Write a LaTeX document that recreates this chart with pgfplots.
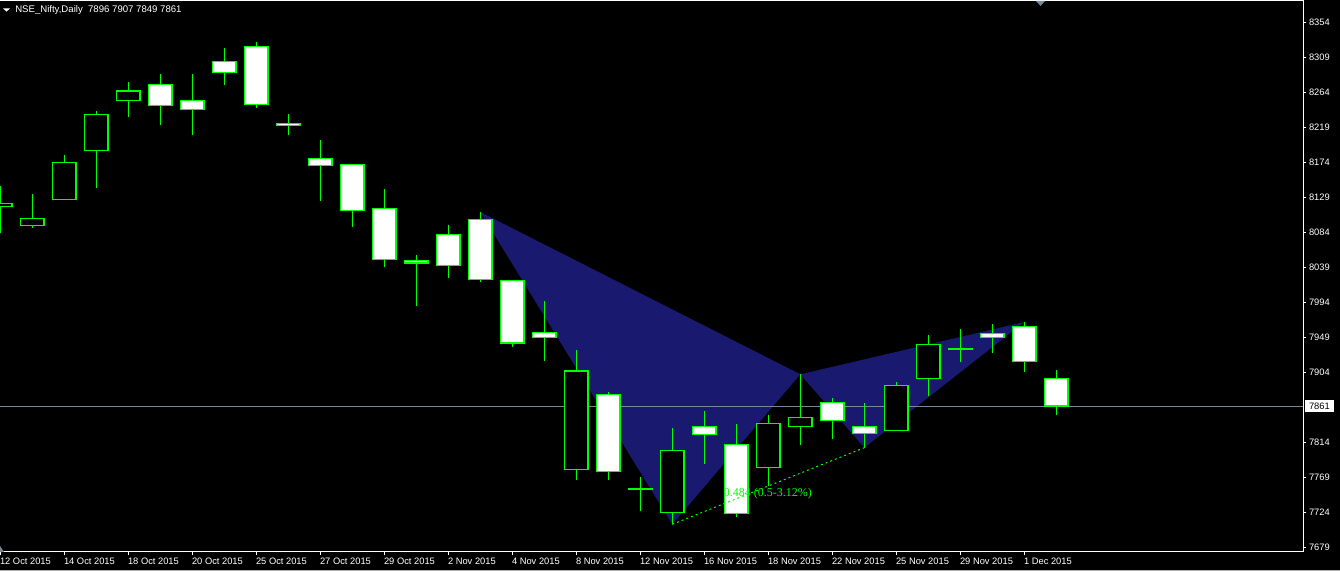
\documentclass[border=0pt]{standalone}
\usepackage{fontspec}
\setmainfont{Liberation Sans}
\newfontfamily\serifnum{Liberation Serif}
\usepackage{pgfplots}
\pgfplotsset{compat=1.18}
\usepackage{pgfplotstable}
\definecolor{mtgreen}{RGB}{0,255,0}
\definecolor{mtblue}{RGB}{25,25,112}
\definecolor{mtgray}{RGB}{119,136,153}

\pgfplotstableread{
i o h l c
0 8117.6 8143.7 8082.9 8121.5
1 8093.2 8133.4 8090.1 8102.2
2 8126.6 8183.5 8126.6 8174.1
3 8189.6 8240.0 8141.5 8235.8
4 8253.8 8277.3 8232.7 8265.7
5 8274.3 8287.6 8222.4 8247.4
6 8253.8 8287.6 8209.6 8242.2
7 8303.9 8321.0 8273.8 8289.8
8 8323.2 8328.7 8244.3 8248.7
9 8224.2 8236.2 8209.6 8221.7
10 8179.3 8202.8 8124.8 8170.3
11 8171.6 8171.6 8091.4 8112.5
12 8115.0 8139.8 8039.2 8049.5
13 8048.2 8054.7 7989.9 8044.8
14 8081.6 8093.2 8025.9 8041.8
15 8100.9 8110.3 8020.7 8023.8
16 8022.5 8022.5 7937.2 7942.0
17 7955.7 7996.0 7919.3 7949.3
18 7779.7 7933.0 7766.0 7906.0
19 7876.1 7879.0 7766.0 7777.2
20 7754.8 7769.5 7726.6 7754.8
21 7724.5 7832.8 7709.1 7804.1
22 7835.0 7854.6 7786.9 7824.7
23 7811.9 7838.0 7718.5 7723.2
24 7782.3 7849.5 7758.7 7838.8
25 7835.0 7901.8 7811.3 7846.5
26 7865.8 7871.7 7819.0 7842.7
27 7835.0 7864.5 7807.5 7826.0
28 7829.8 7891.9 7829.8 7887.7
29 7896.6 7952.3 7874.3 7940.3
30 7933.9 7960.0 7917.2 7933.9
31 7954.5 7966.4 7928.8 7949.3
32 7963.5 7969.0 7905.1 7918.5
33 7896.0 7907.0 7849.0 7861.0
}\candles

\pgfplotsset{
  mtaxis/.style={
    at={(0pt,14.25pt)}, anchor=south west,
    scale only axis, width=977.25pt, height=413.25pt,
    xmin=-0.0094, xmax=40.709, ymin=7673.5, ymax=8381.4,
  },
}

\begin{document}
\begin{tikzpicture}
\useasboundingbox (0,0) rectangle (1005pt,428.25pt);
\fill[black] (0,0) rectangle (1005pt,428.25pt);

% axis 1: pattern, price line, wicks, ticks
\begin{axis}[mtaxis,
  axis line style={draw=none},
  xtick={0,2,...,32},
  xticklabels={12 Oct 2015,14 Oct 2015,18 Oct 2015,20 Oct 2015,25 Oct 2015,27 Oct 2015,29 Oct 2015,2 Nov 2015,4 Nov 2015,8 Nov 2015,12 Nov 2015,16 Nov 2015,18 Nov 2015,22 Nov 2015,25 Nov 2015,29 Nov 2015,1 Dec 2015},
  ytick={7679,7724,7769,7814,7904,7949,7994,8039,8084,8129,8174,8219,8264,8309,8354},
  yticklabels={7679,7724,7769,7814,7904,7949,7994,8039,8084,8129,8174,8219,8264,8309,8354},
  xtick pos=left, ytick pos=right,
  xticklabel pos=left, yticklabel pos=right,
  tick align=outside, major tick length=2.6pt,
  every tick/.style={white, line width=0.75pt},
  ticklabel style={font=\fontsize{7}{8}\selectfont, text=white, inner sep=0pt},
  xticklabel style={anchor=north west, xshift=-0.4pt, yshift=-1.7pt},
  yticklabel style={anchor=west, xshift=1.7pt},
]
\addplot[fill=mtblue, draw=none] coordinates {(15,8110.3) (21,7709.1) (25,7901.8)} -- cycle;
\addplot[fill=mtblue, draw=none] coordinates {(25,7901.8) (27,7807.5) (32,7969.0)} -- cycle;
\addplot[mtgray, line width=0.75pt] coordinates {(-1,7861) (42,7861)};
\addplot[draw=none, mark=none,
  error bars/.cd, y dir=plus, y explicit, error mark=none,
  error bar style={draw=mtgreen, line width=0.75pt, solid}]
  table[x=i, y=l, y error expr=\thisrow{h}-\thisrow{l}] {\candles};
\end{axis}

% axis 2: candle bodies
\begin{axis}[mtaxis, hide axis, ybar stacked, bar width=17.5pt]
\addplot[draw=none, fill=none] table[x=i, y expr={min(\thisrow{o},\thisrow{c})}] {\candles};
\addplot[draw=mtgreen, fill=white, line width=0.85pt] table[x=i, y expr={max(\thisrow{o}-\thisrow{c},0)}] {\candles};
\addplot[draw=mtgreen, fill=black, line width=0.85pt] table[x=i, y expr={max(\thisrow{c}-\thisrow{o},0)}] {\candles};
\end{axis}

% axis 3: doji bars, annotations and frame
\begin{axis}[mtaxis, hide axis, clip mode=individual]
\addplot[only marks, mark=-, mark size=9.2pt, mark options={draw=mtgreen, line width=1.3pt}] coordinates {(20,7754.8) (30,7933.9)};
\addplot[mtgreen, line width=0.75pt, dash pattern=on 1.5pt off 2.25pt] coordinates {(21,7709.1) (27,7807.5)};
\node[text=mtgreen, font=\serifnum\fontsize{9}{10}\selectfont, anchor=west, inner sep=0pt] at (axis cs:22.6,7748.9) {0.484 (0.5-3.12\%)};
\draw[white, line width=0.75pt] (rel axis cs:0,1) -- (rel axis cs:1,1) -- (rel axis cs:1,0) -- (rel axis cs:0,0);
\node[fill=white, text=black, inner sep=0pt, minimum width=21.2pt, minimum height=9pt, anchor=west, font=\fontsize{7}{8}\selectfont, xshift=1.5pt] at (axis cs:40.709,7861) {7861};
\end{axis}

% title and chart markers
\fill[white] (2.25pt,422pt) -- (7.5pt,422pt) -- (4.9pt,419.5pt) -- cycle;
\node[anchor=base west, inner sep=0pt, text=white, font=\fontsize{7.2}{8}\selectfont] at (11.25pt,418.7pt) {NSE\_Nifty,Daily\ \ 7896 7907 7849 7861};
\fill[mtgray] (777pt,427.5pt) -- (783.75pt,427.5pt) -- (780.4pt,423.75pt) -- cycle;
\fill[mtgray] (0pt,18.75pt) -- (0pt,14.25pt) -- (3pt,14.25pt) -- cycle;
\draw[gray!60, line width=0.75pt] (0,0.375pt) -- (1005pt,0.375pt);
\end{tikzpicture}
\end{document}
